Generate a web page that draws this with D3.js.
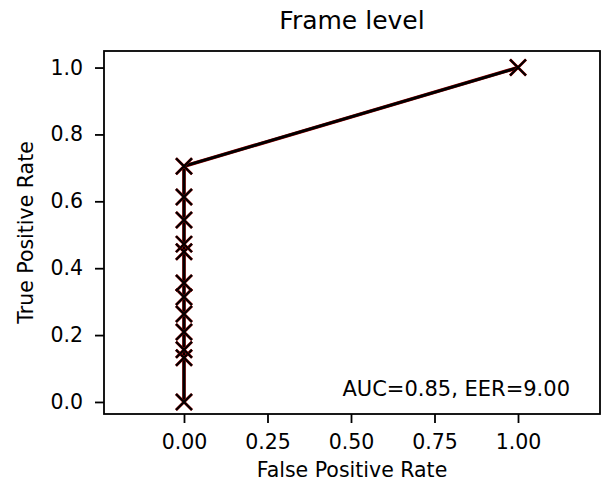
<!DOCTYPE html>
<html>
<head>
<meta charset="utf-8">
<script src="https://cdn.jsdelivr.net/npm/d3@7"></script>
<style>
  html, body { margin: 0; padding: 0; background: #fff; }
  text { font-family: "DejaVu Sans", sans-serif; fill: #000; }
</style>
</head>
<body>
<svg id="chart" width="603" height="492"></svg>
<script>
// ROC curve points (false positive rate, true positive rate)
const fpr = [0, 0, 0, 0, 0, 0, 0, 0, 0, 0, 0, 0, 1];
const tpr = [0, 0.132, 0.156, 0.209, 0.263, 0.314, 0.356, 0.449, 0.472, 0.544, 0.613, 0.705, 1];
const xTicks = [0, 0.25, 0.5, 0.75, 1];
const yTicks = [0, 0.2, 0.4, 0.6, 0.8, 1];
const titleText = "Frame level";
const xLabel = "False Positive Rate";
const yLabel = "True Positive Rate";
const note = "AUC=0.85, EER=9.00";

const svg = d3.select("#chart");
const box = { left: 104, right: 600, top: 51, bottom: 414 };

const x = d3.scaleLinear().domain([-0.2395, 1.2455]).range([box.left, box.right]);
const y = d3.scaleLinear().domain([-0.036, 1.0495]).range([box.bottom, box.top]);

const pts = fpr.map((f, i) => ({ x: f, y: tpr[i] }));

// axes
const xAxis = d3.axisBottom(x).tickValues(xTicks).tickFormat(d3.format(".2f")).tickSize(9).tickPadding(11);
const yAxis = d3.axisLeft(y).tickValues(yTicks).tickFormat(d3.format(".1f")).tickSize(9).tickPadding(12);

const gx = svg.append("g").attr("transform", `translate(0,${box.bottom})`).call(xAxis);
const gy = svg.append("g").attr("transform", `translate(${box.left},0)`).call(yAxis);
[gx, gy].forEach(g => {
  g.attr("font-size", null).attr("font-family", null);
  g.select(".domain").remove();
  g.selectAll(".tick line").attr("stroke", "#000").attr("stroke-width", 1.8);
  g.selectAll(".tick text").style("font-size", "20.5px").style("font-family", "DejaVu Sans").attr("fill", "#000");
});

// curve: red underlay with black line on top
const line = d3.line().x(d => x(d.x)).y(d => y(d.y));
svg.append("path").datum(pts).attr("d", line)
  .attr("fill", "none").attr("stroke", "#a00000").attr("stroke-width", 3.6).attr("stroke-linejoin", "round");
svg.append("path").datum(pts).attr("d", line)
  .attr("fill", "none").attr("stroke", "#000").attr("stroke-width", 2.8).attr("stroke-linejoin", "round");

// x markers
const s = 8;
const mk = svg.append("g");
pts.forEach(p => {
  const cx = x(p.x), cy = y(p.y);
  const d = `M${cx - s},${cy - s}L${cx + s},${cy + s}M${cx - s},${cy + s}L${cx + s},${cy - s}`;
  mk.append("path").attr("d", d).attr("stroke", "#a00000").attr("stroke-width", 2.8).attr("fill", "none");
  mk.append("path").attr("d", d).attr("stroke", "#000").attr("stroke-width", 2.1).attr("fill", "none");
});

// frame
svg.append("rect")
  .attr("x", box.left).attr("y", box.top)
  .attr("width", box.right - box.left).attr("height", box.bottom - box.top)
  .attr("fill", "none").attr("stroke", "#000").attr("stroke-width", 1.8);

// texts
svg.append("text").attr("x", (box.left + box.right) / 2).attr("y", 29)
  .attr("text-anchor", "middle").style("font-size", "25px").text(titleText);
svg.append("text").attr("x", (box.left + box.right) / 2).attr("y", 477)
  .attr("text-anchor", "middle").style("font-size", "20.5px").text(xLabel);
svg.append("text").attr("transform", `translate(33,${(box.top + box.bottom) / 2}) rotate(-90)`)
  .attr("text-anchor", "middle").style("font-size", "20.5px").text(yLabel);
svg.append("text").attr("x", 570).attr("y", 396)
  .attr("text-anchor", "end").style("font-size", "21px").text(note);
</script>
</body>
</html>
